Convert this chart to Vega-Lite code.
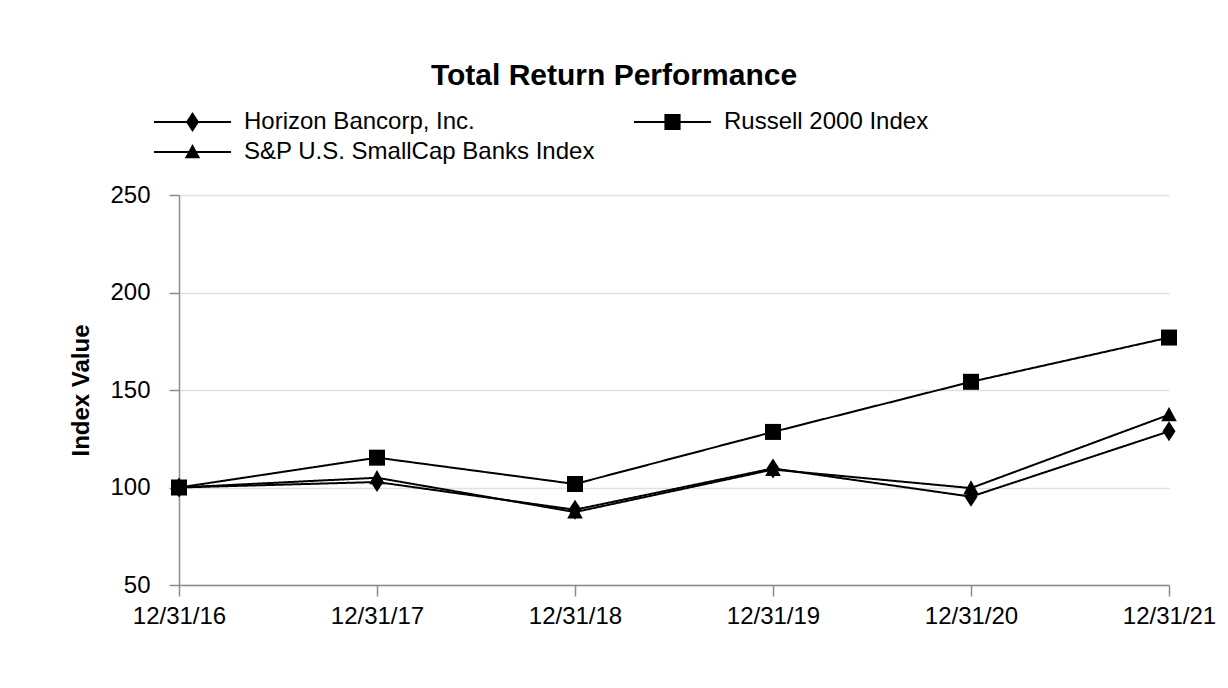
{
  "$schema": "https://vega.github.io/schema/vega-lite/v6.json",
  "width": 990,
  "height": 390,
  "autosize": {"type": "none"},
  "padding": {"left": 179, "top": 195, "right": 59, "bottom": 103},
  "background": "white",
  "title": {
    "text": "Total Return Performance",
    "font": "Liberation Sans",
    "fontSize": 30,
    "fontWeight": "bold",
    "color": "black",
    "anchor": "middle",
    "dx": -60,
    "offset": 20
  },
  "data": {
    "values": [
      {"date": "12/31/16", "series": "Horizon Bancorp, Inc.", "value": 100},
      {"date": "12/31/17", "series": "Horizon Bancorp, Inc.", "value": 102.8},
      {"date": "12/31/18", "series": "Horizon Bancorp, Inc.", "value": 88.6},
      {"date": "12/31/19", "series": "Horizon Bancorp, Inc.", "value": 109.8},
      {"date": "12/31/20", "series": "Horizon Bancorp, Inc.", "value": 95.3},
      {"date": "12/31/21", "series": "Horizon Bancorp, Inc.", "value": 128.8},
      {"date": "12/31/16", "series": "Russell 2000 Index", "value": 100},
      {"date": "12/31/17", "series": "Russell 2000 Index", "value": 115.3},
      {"date": "12/31/18", "series": "Russell 2000 Index", "value": 101.8},
      {"date": "12/31/19", "series": "Russell 2000 Index", "value": 128.5},
      {"date": "12/31/20", "series": "Russell 2000 Index", "value": 154.2},
      {"date": "12/31/21", "series": "Russell 2000 Index", "value": 176.9},
      {"date": "12/31/16", "series": "S&P U.S. SmallCap Banks Index", "value": 100},
      {"date": "12/31/17", "series": "S&P U.S. SmallCap Banks Index", "value": 105.0},
      {"date": "12/31/18", "series": "S&P U.S. SmallCap Banks Index", "value": 87.4},
      {"date": "12/31/19", "series": "S&P U.S. SmallCap Banks Index", "value": 109.2},
      {"date": "12/31/20", "series": "S&P U.S. SmallCap Banks Index", "value": 99.7},
      {"date": "12/31/21", "series": "S&P U.S. SmallCap Banks Index", "value": 137.3}
    ]
  },
  "encoding": {
    "x": {
      "field": "date",
      "type": "ordinal",
      "scale": {"type": "point", "padding": 0},
      "axis": {
        "title": null,
        "labelAngle": 0,
        "labelFont": "Liberation Sans",
        "labelFontSize": 24,
        "labelColor": "black",
        "labelPadding": 8,
        "tickSize": 11,
        "tickColor": "#8c8c8c",
        "domainColor": "#8c8c8c",
        "tickWidth": 1.5,
        "domainWidth": 1.5,
        "grid": false
      }
    },
    "y": {
      "field": "value",
      "type": "quantitative",
      "scale": {"domain": [50, 250], "nice": false, "zero": false},
      "axis": {
        "title": "Index Value",
        "titleFont": "Liberation Sans",
        "titleFontSize": 24,
        "titleFontWeight": "bold",
        "titleColor": "black",
        "titlePadding": 16,
        "values": [50, 100, 150, 200, 250],
        "labelFont": "Liberation Sans",
        "labelFontSize": 24,
        "labelColor": "black",
        "labelPadding": 19,
        "tickSize": 10,
        "tickColor": "#8c8c8c",
        "domainColor": "#8c8c8c",
        "tickWidth": 1.5,
        "domainWidth": 1.5,
        "grid": true,
        "gridColor": "#e0e0e0",
        "gridWidth": 1.5
      }
    }
  },
  "resolve": {"scale": {"shape": "independent"}, "legend": {"shape": "independent"}},
  "layer": [
    {
      "transform": [{"filter": "datum.value < 0"}],
      "mark": {"type": "point", "filled": false, "color": "black", "fill": "black", "stroke": "black", "strokeWidth": 2, "strokeOpacity": 1, "fillOpacity": 1, "opacity": 1, "size": 5929},
      "encoding": {
        "shape": {
          "field": "series",
          "type": "nominal",
          "scale": {
            "domain": ["Horizon Bancorp, Inc.", "Russell 2000 Index", "S&P U.S. SmallCap Banks Index"],
            "range": ["M-1,0L1,0M0,-0.26L0.17,0L0,0.26L-0.17,0Z", "M-1,0L1,0M-0.21,-0.21L0.21,-0.21L0.21,0.21L-0.21,0.21Z", "M-1,0L1,0M0,-0.21L0.2,0.16L-0.2,0.16Z"]
          },
          "legend": {
            "title": null,
            "orient": "none",
            "legendX": -26,
            "legendY": -84,
            "direction": "horizontal",
            "columns": 2,
            "columnPadding": 38,
            "rowPadding": 6,
            "clipHeight": 22,
            "symbolSize": 5929,
            "symbolStrokeWidth": 2,
            "symbolStrokeColor": "black",
            "symbolFillColor": "black",
            "symbolOpacity": 1,
            "labelOffset": 12,
            "labelFont": "Liberation Sans",
            "labelFontSize": 24,
            "labelColor": "black",
            "labelLimit": 500,
            "encode": {
              "symbols": {
                "stroke": {"value": "black"},
                "strokeWidth": {"value": 2},
                "strokeOpacity": {"value": 1},
                "fill": {"value": "black"},
                "opacity": {"value": 1}
              }
            }
          }
        }
      }
    },
    {
      "mark": {"type": "line", "color": "black", "strokeWidth": 2},
      "encoding": {
        "detail": {"field": "series"},
        "strokeDash": {
          "field": "series",
          "type": "nominal",
          "scale": {"range": [[1, 0], [1, 0], [1, 0]]},
          "legend": {
            "title": null,
            "orient": "none",
            "legendX": -26,
            "legendY": -84,
            "direction": "horizontal",
            "columns": 2,
            "columnPadding": 38,
            "rowPadding": 6,
            "clipHeight": 22,
            "symbolType": "stroke",
            "symbolSize": 5929,
            "symbolStrokeWidth": 2,
            "symbolStrokeColor": "black",
            "symbolOpacity": 1,
            "labelOffset": 12,
            "labelFont": "Liberation Sans",
            "labelFontSize": 24,
            "labelColor": "transparent",
            "labelLimit": 500
          }
        }
      }
    },
    {
      "mark": {"type": "point", "filled": true, "color": "black", "opacity": 1, "size": 400},
      "encoding": {
        "shape": {
          "field": "series",
          "type": "nominal",
          "scale": {
            "domain": ["Horizon Bancorp, Inc.", "Russell 2000 Index", "S&P U.S. SmallCap Banks Index"],
            "range": ["M0,-1L0.65,0L0,1L-0.65,0Z", "M-0.8,-0.8H0.8V0.8H-0.8Z", "M0,-0.78L0.78,0.65H-0.78Z"]
          },
          "legend": null
        }
      }
    }
  ],
  "config": {
    "view": {"stroke": null}
  }
}
